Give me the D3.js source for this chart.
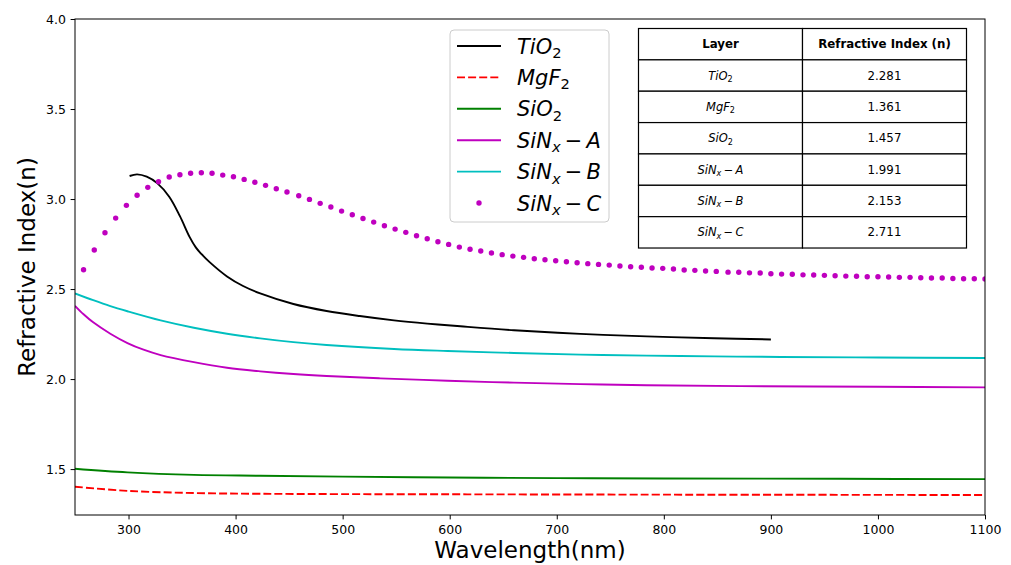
<!DOCTYPE html>
<html>
<head>
<meta charset="utf-8">
<script src="https://cdn.jsdelivr.net/npm/d3@7"></script>
<style>
  body { margin: 0; background: #fff; }
  text { font-family: "DejaVu Sans", sans-serif; fill: #000; }
</style>
</head>
<body>
<svg id="chart" width="1011" height="565"></svg>
<script>
// Tick labels
const xTicks = [300, 400, 500, 600, 700, 800, 900, 1000, 1100];
const yTicks = [1.5, 2.0, 2.5, 3.0, 3.5, 4.0];

// TiO2 (solid black)
const tio2Wl = [301, 308, 317, 327, 338, 348, 357, 363, 368, 376, 392, 407, 423, 454, 485, 516, 548, 579, 610, 660, 722, 784, 847, 900];
const tio2N  = [3.128, 3.137, 3.124, 3.087, 3.013, 2.905, 2.790, 2.730, 2.695, 2.648, 2.570, 2.517, 2.476, 2.417, 2.378, 2.350, 2.326, 2.308, 2.293, 2.271, 2.251, 2.237, 2.227, 2.220];

// MgF2 (dashed red)
const mgf2Wl = [250, 299, 361, 423, 500, 600, 700, 800, 965, 1100];
const mgf2N  = [1.402, 1.379, 1.367, 1.363, 1.361, 1.360, 1.359, 1.358, 1.357, 1.356];

// SiO2 (green)
const sio2Wl = [250, 299, 361, 423, 500, 600, 700, 800, 965, 1100];
const sio2N  = [1.502, 1.482, 1.468, 1.463, 1.458, 1.453, 1.450, 1.448, 1.446, 1.444];

// SiNx-A (magenta line)
const sinaWl = [250, 258, 267, 283, 299, 314, 330, 361, 392, 423, 454, 485, 535, 598, 660, 722, 784, 872, 1000, 1100];
const sinaN  = [2.407, 2.360, 2.315, 2.252, 2.200, 2.163, 2.133, 2.094, 2.063, 2.043, 2.028, 2.017, 2.004, 1.991, 1.980, 1.972, 1.966, 1.961, 1.957, 1.954];

// SiNx-B (cyan line)
const sinbWl = [250, 267, 283, 300, 330, 361, 392, 423, 454, 485, 548, 598, 660, 722, 784, 847, 909, 1000, 1100];
const sinbN  = [2.476, 2.438, 2.405, 2.375, 2.326, 2.285, 2.252, 2.226, 2.205, 2.189, 2.167, 2.156, 2.145, 2.136, 2.130, 2.126, 2.123, 2.120, 2.117];

// SiNx-C (magenta dots)
const sincWl = [258, 268, 278, 288, 298, 308, 318, 328, 338, 348, 358, 368, 378, 388, 398, 408, 418, 428, 438, 448,
                459, 469, 479, 489, 499, 509, 519, 529, 539, 549, 559, 569, 579, 589, 599, 609, 619, 629, 639, 649,
                659, 669, 679, 689, 699, 709, 719, 729, 739, 749, 759, 769, 779, 789, 799, 809, 819, 829, 839, 849,
                860, 870, 880, 890, 900, 910, 920, 930, 940, 950, 960, 970, 980, 990, 1000, 1010, 1020, 1030, 1040, 1050,
                1060, 1070, 1080, 1090, 1100];
const sincN  = [2.607, 2.717, 2.813, 2.894, 2.965, 3.021, 3.065, 3.096, 3.122, 3.135, 3.143, 3.146, 3.143, 3.133, 3.124, 3.109, 3.093, 3.076, 3.057, 3.039,
                3.018, 2.998, 2.976, 2.956, 2.933, 2.913, 2.892, 2.872, 2.852, 2.833, 2.815, 2.796, 2.779, 2.763, 2.748, 2.733, 2.721, 2.711, 2.700, 2.691,
                2.683, 2.676, 2.668, 2.663, 2.657, 2.652, 2.646, 2.641, 2.637, 2.633, 2.628, 2.624, 2.621, 2.617, 2.615, 2.611, 2.606, 2.604, 2.600, 2.598,
                2.594, 2.593, 2.590, 2.589, 2.585, 2.583, 2.582, 2.579, 2.578, 2.576, 2.574, 2.572, 2.571, 2.568, 2.568, 2.567, 2.565, 2.565, 2.563, 2.561,
                2.561, 2.559, 2.557, 2.557, 2.556];

// Table values
const tableHeader = ['Layer', 'Refractive Index (n)'];
const tableValues = ['2.281', '1.361', '1.457', '1.991', '2.153', '2.711'];

// Label pieces: [text, kind] kind: 'i' italic, 's' italic subscript, 'n' upright subscript, 'r' upright
const labels = [
  [['TiO', 'i'], ['2', 'n']],
  [['MgF', 'i'], ['2', 'n']],
  [['SiO', 'i'], ['2', 'n']],
  [['SiN', 'i'], ['x', 's'], ['\u2009\u2212\u2009', 'r'], ['A', 'i']],
  [['SiN', 'i'], ['x', 's'], ['\u2009\u2212\u2009', 'r'], ['B', 'i']],
  [['SiN', 'i'], ['x', 's'], ['\u2009\u2212\u2009', 'r'], ['C', 'i']]
];

const series = [
  {wl: tio2Wl, n: tio2N, color: '#000000', dash: null},
  {wl: mgf2Wl, n: mgf2N, color: '#ff0000', dash: '8,3.1'},
  {wl: sio2Wl, n: sio2N, color: '#008000', dash: null},
  {wl: sinaWl, n: sinaN, color: '#bf00bf', dash: null},
  {wl: sinbWl, n: sinbN, color: '#00bfbf', dash: null}
];

const svg = d3.select('#chart');

// Scales
const x = d3.scaleLinear().domain([250, 1100]).range([75, 985]);
const y = d3.scaleLinear().domain([1.245, 4.0]).range([515, 19]);

svg.append('defs').append('clipPath').attr('id', 'plot-clip')
  .append('rect').attr('x', 75).attr('y', 19).attr('width', 910).attr('height', 496);

const plot = svg.append('g').attr('clip-path', 'url(#plot-clip)');

// Lines
const line = d3.line()
  .x(d => x(d[0]))
  .y(d => y(d[1]))
  .curve(d3.curveCatmullRom.alpha(0.5));

series.forEach(s => {
  plot.append('path')
    .datum(s.wl.map((w, i) => [w, s.n[i]]))
    .attr('d', line)
    .attr('fill', 'none')
    .attr('stroke', s.color)
    .attr('stroke-width', 1.9)
    .attr('stroke-dasharray', s.dash);
});

// Dots
plot.selectAll('circle.sinc')
  .data(sincWl.map((w, i) => [w, sincN[i]]))
  .join('circle')
  .attr('class', 'sinc')
  .attr('cx', d => x(d[0]))
  .attr('cy', d => y(d[1]))
  .attr('r', 2.7)
  .attr('fill', '#bf00bf');

// Axes
const xAxis = svg.append('g')
  .attr('transform', 'translate(0,515)')
  .call(d3.axisBottom(x).tickValues(xTicks).tickSize(4.4).tickPadding(6).tickFormat(d3.format('d')));
const yAxis = svg.append('g')
  .attr('transform', 'translate(75,0)')
  .call(d3.axisLeft(y).tickValues(yTicks).tickSize(4.4).tickPadding(4.6).tickFormat(d3.format('.1f')));
[xAxis, yAxis].forEach(a => {
  a.select('.domain').remove();
  a.selectAll('line').attr('stroke', '#000').attr('stroke-width', 1);
  a.selectAll('text').attr('font-size', '12.5px').attr('font-family', '"DejaVu Sans", sans-serif').attr('fill', '#000');
});

// Frame
svg.append('rect')
  .attr('x', 75).attr('y', 19).attr('width', 910).attr('height', 496)
  .attr('fill', 'none').attr('stroke', '#000').attr('stroke-width', 1);

// Axis labels
svg.append('text')
  .attr('x', 530).attr('y', 558)
  .attr('text-anchor', 'middle')
  .attr('font-size', '23px')
  .text('Wavelength(nm)');
svg.append('text')
  .attr('transform', 'translate(35,267) rotate(-90)')
  .attr('text-anchor', 'middle')
  .attr('font-size', '23px')
  .text('Refractive Index(n)');

// Write a mathtext-like label into a text node
function writeLabel(node, parts, size, subShift) {
  parts.forEach((p, k) => {
    const prevSub = k > 0 && (parts[k - 1][1] === 's' || parts[k - 1][1] === 'n');
    const isSub = p[1] === 's' || p[1] === 'n';
    let dy = 0;
    if (isSub && !prevSub) dy = subShift;
    if (!isSub && prevSub) dy = -subShift;
    node.append('tspan')
      .attr('dy', dy)
      .attr('font-size', isSub ? size * 0.7 + 'px' : size + 'px')
      .attr('font-style', (p[1] === 'i' || p[1] === 's') ? 'italic' : 'normal')
      .text(p[0]);
  });
}

// Legend
const legend = svg.append('g');
legend.append('rect')
  .attr('x', 450).attr('y', 30).attr('width', 159).attr('height', 192)
  .attr('rx', 4).attr('ry', 4)
  .attr('fill', '#fff').attr('fill-opacity', 0.8)
  .attr('stroke', '#cccccc').attr('stroke-width', 1);

labels.forEach((lab, i) => {
  const cy = 46 + i * 31.4;
  if (i < 5) {
    legend.append('line')
      .attr('x1', 457).attr('x2', 501)
      .attr('y1', cy).attr('y2', cy)
      .attr('stroke', series[i].color)
      .attr('stroke-width', 1.9)
      .attr('stroke-dasharray', series[i].dash);
  } else {
    legend.append('circle')
      .attr('cx', 479).attr('cy', cy).attr('r', 2.7)
      .attr('fill', '#bf00bf');
  }
  const t = legend.append('text').attr('x', 517).attr('y', cy + 7.5);
  writeLabel(t, lab, 21, 4.5);
});

// Table
const tLeft = 638.5, tMid = 802.5, tRight = 966.5, tTop = 28.5, rowH = 31.36;
const table = svg.append('g');
const nRows = tableValues.length + 1;
for (let r = 0; r < nRows; r++) {
  [[tLeft, tMid], [tMid, tRight]].forEach(c => {
    table.append('rect')
      .attr('x', c[0]).attr('y', tTop + r * rowH)
      .attr('width', c[1] - c[0]).attr('height', rowH)
      .attr('fill', '#fff').attr('stroke', '#000').attr('stroke-width', 1.2);
  });
}
tableHeader.forEach((h, k) => {
  table.append('text')
    .attr('x', k === 0 ? (tLeft + tMid) / 2 : (tMid + tRight) / 2)
    .attr('y', tTop + rowH / 2 + 4)
    .attr('text-anchor', 'middle')
    .attr('font-size', '11.8px')
    .attr('font-weight', 'bold')
    .text(h);
});
tableValues.forEach((v, i) => {
  const cy = tTop + (i + 1) * rowH + rowH / 2;
  const t = table.append('text')
    .attr('x', (tLeft + tMid) / 2).attr('y', cy + 4)
    .attr('text-anchor', 'middle');
  writeLabel(t, labels[i], 11.5, 2.5);
  table.append('text')
    .attr('x', (tMid + tRight) / 2).attr('y', cy + 4)
    .attr('text-anchor', 'middle')
    .attr('font-size', '11.8px')
    .text(v);
});
</script>
</body>
</html>
